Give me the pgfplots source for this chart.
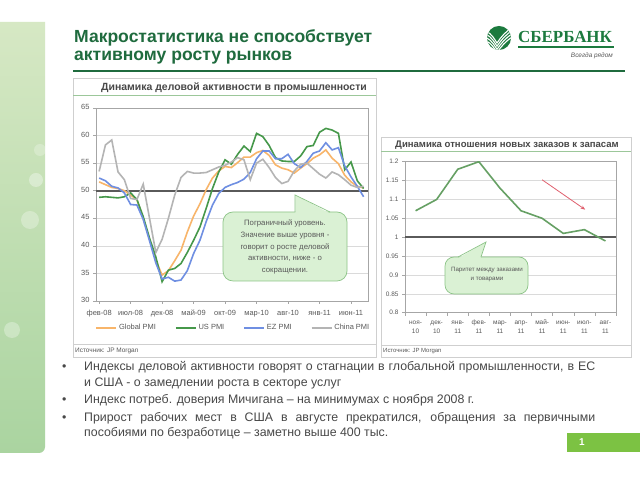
\documentclass[border=0pt]{standalone}
\usepackage{fontspec}
\setmainfont{Liberation Sans}
\newfontfamily\logofont{Liberation Serif}
\usepackage{pgfplots}
\usepackage{pgfplotstable}
\pgfplotsset{compat=1.18}
\usetikzlibrary{arrows.meta}

\definecolor{titlegreen}{HTML}{1F6B3E}
\definecolor{logogreen}{HTML}{1C7A3E}
\definecolor{txtgray}{HTML}{484848}
\definecolor{lblgray}{HTML}{595959}
\definecolor{gridgray}{HTML}{DADADA}
\definecolor{axisgray}{HTML}{A6A6A6}
\definecolor{panelgray}{HTML}{CFCFCF}
\definecolor{lightline}{HTML}{9CC79A}
\definecolor{pmiorange}{HTML}{F8B56A}
\definecolor{pmigreen}{HTML}{46984A}
\definecolor{pmiblue}{HTML}{6F8FE2}
\definecolor{pmigray}{HTML}{B4B4B4}
\definecolor{darkline}{HTML}{5A5A5A}
\definecolor{ratiogreen}{HTML}{66A064}
\definecolor{callfill}{HTML}{DAF1D4}
\definecolor{callborder}{HTML}{8CC487}
\definecolor{arrowred}{HTML}{E0606E}
\definecolor{pagegreen}{HTML}{7CC243}
\definecolor{striptop}{HTML}{D6E8C4}
\definecolor{stripbot}{HTML}{AAD4A0}

% PMI indices, month 0 = Feb 2008
\pgfplotstableread{
i global us ez china
0 51.6 48.8 52.3 53.5
1 51.1 48.9 51.8 58.3
2 50.6 48.8 50.8 59.2
3 50.4 48.7 50.5 53.4
4 50.0 48.9 49.6 52.0
5 49.2 49.6 47.5 48.6
6 48.4 48.4 47.4 48.4
7 44.9 45.3 44.8 51.2
8 41.2 41.4 40.9 45.0
9 37.4 38.0 36.9 38.8
10 34.7 33.5 34.0 41.2
11 35.5 35.6 34.3 45.0
12 37.3 35.9 33.6 49.2
13 39.2 36.8 33.8 52.4
14 42.5 38.8 35.5 53.5
15 45.4 41.0 38.6 53.2
16 47.6 43.4 41.0 53.2
17 50.2 46.8 44.4 53.3
18 52.3 50.4 47.4 53.8
19 53.6 53.4 49.5 54.3
20 54.4 55.6 50.6 54.6
21 54.2 54.8 51.1 55.2
22 55.1 56.6 51.5 56.0
23 56.1 58.1 52.1 55.6
24 56.1 57.1 53.3 52.0
25 56.9 60.4 55.8 55.0
26 57.3 59.8 57.2 55.7
27 56.4 58.2 57.2 54.2
28 54.7 56.0 55.8 52.4
29 54.1 55.4 55.8 51.3
30 53.8 55.3 56.6 51.7
31 53.2 55.3 54.9 53.6
32 54.1 56.3 54.2 54.8
33 54.9 58.0 55.3 55.0
34 55.9 58.2 56.8 54.0
35 56.5 60.6 57.2 53.0
36 57.4 61.3 58.7 52.3
37 55.9 61.0 57.4 53.4
38 54.9 60.4 57.8 52.9
39 52.8 53.8 54.5 52.0
40 51.6 55.2 52.5 51.0
41 50.8 51.8 50.8 50.6
42 50.5 50.4 48.9 50.8
}\pmitable

% new orders / inventories, Nov 2010 .. Aug 2011
\pgfplotstableread{
i ratio
0 1.07
1 1.10
2 1.18
3 1.20
4 1.13
5 1.07
6 1.05
7 1.01
8 1.02
9 0.99
}\ratiotable

\begin{document}
\begin{tikzpicture}[x=1bp,y=1bp]
\path[use as bounding box] (0,0) rectangle (640,480);
\fill[white] (0,0) rectangle (640,480);

% decorative strip on the left
\shade[top color=striptop, bottom color=stripbot]
  (0,458) -- (45,458) -- (45,33) arc (0:-90:6) -- (0,27) -- cycle;
\fill[white, opacity=0.35] (36,300) circle (7);
\fill[white, opacity=0.3] (30,260) circle (9);
\fill[white, opacity=0.3] (12,150) circle (8);
\fill[white, opacity=0.25] (40,330) circle (6);

% header
\node[anchor=base west, inner sep=0, text=titlegreen, font=\bfseries\fontsize{17.6}{19}\selectfont] at (74,437) {Макростатистика не способствует};
\node[anchor=base west, inner sep=0, text=titlegreen, font=\bfseries\fontsize{17.6}{19}\selectfont] at (74,419.5) {активному росту рынков};
\draw[titlegreen, line width=2bp] (73,409) -- (625,409);

% logo
\fill[logogreen] (499,442) circle (12);
\begin{scope}
  \clip (499,442) circle (12);
  \foreach \d in {0,3.2,6.4,9.6}
    \draw[white, line width=1.1bp] (486,{449-\d}) .. controls (492,{446-\d}) and (495,{440-\d}) .. (497,{437-\d}) .. controls (501,{443-\d}) and (506,{449-\d}) .. (513,{453-\d});
\end{scope}
\node[anchor=base west, inner sep=0, text=logogreen, font=\logofont\bfseries\fontsize{17}{17}\selectfont] at (518,437) {СБЕРБАНК};
\draw[logogreen, line width=1.2bp] (518,433) -- (614,433);
\node[anchor=base east, inner sep=0, text=lblgray, font=\itshape\fontsize{6.5}{7}\selectfont] at (613,422) {Всегда рядом};

% left panel frame
\draw[panelgray, line width=0.6bp] (73,402) rectangle (376,123);
\node[text=txtgray, font=\bfseries\fontsize{10.5}{12}\selectfont] at (234,392) {Динамика деловой активности в промышленности};
\draw[lightline, line width=1bp] (73,384) -- (376,384);
\draw[panelgray, line width=0.6bp] (73,136) -- (376,136);
\node[anchor=west, inner sep=0, text=lblgray, font=\fontsize{6.5}{7}\selectfont] at (75,129) {Источник: JP Morgan};

% right panel frame
\draw[panelgray, line width=0.6bp] (381,343) rectangle (631,123);
\node[text=txtgray, font=\bfseries\fontsize{9.6}{11}\selectfont] at (507,335) {Динамика отношения новых заказов к запасам};
\draw[lightline, line width=1bp] (381,328) -- (631,328);
\draw[panelgray, line width=0.6bp] (381,135) -- (631,135);
\node[anchor=west, inner sep=0, text=lblgray, font=\fontsize{6}{7}\selectfont] at (383,129) {Источник: JP Morgan};

% left chart
\begin{axis}[
  at={(96bp,179bp)}, anchor=south west,
  scale only axis, width=272bp, height=193bp,
  xmin=-0.5, xmax=42.7, ymin=30, ymax=65,
  ytick={30,35,...,65},
  xtick={0,5,...,40},
  xticklabels={фев-08,июл-08,дек-08,май-09,окт-09,мар-10,авг-10,янв-11,июн-11},
  typeset ticklabels with strut,
  ymajorgrids, grid style={draw=gridgray, line width=0.6bp},
  axis line style={draw=axisgray, line width=0.6bp},
  tick style={draw=axisgray, line width=0.6bp},
  tick pos=left, tick align=outside, major tick length=3bp,
  ticklabel style={font=\fontsize{7.5}{8}\selectfont, text=lblgray},
  xticklabel style={yshift=-2.5bp},
  /pgf/number format/assume math mode=true,
  legend columns=4,
  legend style={at={(0.505,-0.14)}, anchor=center, draw=none, fill=none,
    font=\fontsize{7.5}{8}\selectfont, text=lblgray,
    /tikz/every even column/.append style={column sep=17bp}},
  legend image code/.code={\draw[#1] (0bp,0bp) -- (20bp,0bp);},
]
\addplot[darkline, line width=1.8bp, forget plot] coordinates {(-0.5,50) (42.7,50)};
\addplot[pmiorange, line width=1.6bp] table[x=i, y=global] {\pmitable};
\addlegendentry{Global PMI}
\addplot[pmigreen, line width=1.6bp] table[x=i, y=us] {\pmitable};
\addlegendentry{US PMI}
\addplot[pmiblue, line width=1.6bp] table[x=i, y=ez] {\pmitable};
\addlegendentry{EZ PMI}
\addplot[pmigray, line width=1.6bp] table[x=i, y=china] {\pmitable};
\addlegendentry{China PMI}
\end{axis}

% right chart
\begin{axis}[
  at={(405bp,167.3bp)}, anchor=south west,
  scale only axis, width=211bp, height=151bp,
  xmin=-0.5, xmax=9.5, ymin=0.8, ymax=1.2,
  ytick={0.8,0.85,0.9,0.95,1,1.05,1.1,1.15,1.2},
  yticklabels={0.8,0.85,0.9,0.95,1,1.05,1.1,1.15,1.2},
  xtick={0,...,9},
  xticklabels={{\strut ноя-\\10},{\strut дек-\\10},{\strut янв-\\11},{\strut фев-\\11},{\strut мар-\\11},{\strut апр-\\11},{\strut май-\\11},{\strut июн-\\11},{\strut июл-\\11},{\strut авг-\\11}},
  xticklabel style={align=center, font=\fontsize{6.5}{9}\selectfont, anchor=north, yshift=1bp},
  minor xtick={-0.5,0.5,...,9.5},
  ymajorgrids, grid style={draw=gridgray, line width=0.6bp},
  axis line style={draw=axisgray, line width=0.6bp},
  tick style={draw=axisgray, line width=0.6bp},
  major x tick style={draw=none},
  tick pos=left, tick align=outside,
  major tick length=3bp, minor tick length=3bp,
  ticklabel style={text=lblgray},
  yticklabel style={font=\fontsize{6.5}{8}\selectfont},
  /pgf/number format/assume math mode=true,
]
\addplot[darkline, line width=1.8bp] coordinates {(-0.5,1) (9.5,1)};
\addplot[ratiogreen, line width=1.6bp] table[x=i, y=ratio] {\ratiotable};
\draw[arrowred, line width=0.8bp, -{Stealth[length=4.5bp, width=3.5bp]}] (axis cs:6.0,1.152) -- (axis cs:8.04,1.073);
\end{axis}

% left callout
\filldraw[fill=callfill, draw=callborder, line width=0.7bp, rounded corners=10bp] (223,268) rectangle (347,199);
\fill[callfill] (295.4,267) -- (295.4,285) -- (329,267) -- cycle;
\draw[callborder, line width=0.7bp] (295,268) -- (295,285) -- (330,268);
\node[align=center, text=lblgray, font=\fontsize{7.8}{11.7}\selectfont] at (285,233)
  {Пограничный уровень.\\Значение выше уровня -\\говорит о росте деловой\\активности, ниже - о\\сокращении.};

% right callout
\filldraw[fill=callfill, draw=callborder, line width=0.7bp, rounded corners=9bp] (445,223) rectangle (528,186);
\fill[callfill] (458.5,222) -- (486,238) -- (480.5,222) -- cycle;
\draw[callborder, line width=0.7bp] (458,223) -- (486,238) -- (481,223);
\node[align=center, text=lblgray, font=\fontsize{6.2}{9}\selectfont] at (487,205)
  {Паритет между заказами\\и товарами};

% bullets
\begin{scope}[every node/.style={anchor=base west, inner sep=0, text=txtgray, font=\fontsize{12.4}{14}\selectfont}]
\node at (62,109) {•};
\node at (84,109) {\makebox[511bp][s]{Индексы деловой активности говорят о стагнации в глобальной промышленности, в ЕС}};
\node at (84,93) {и США - о замедлении роста в секторе услуг};
\node at (62,76) {•};
\node at (84,76) {Индекс потреб. доверия Мичигана – на минимумах с ноября 2008 г.};
\node at (62,58) {•};
\node at (84,58) {\makebox[511bp][s]{Прирост рабочих мест в США в августе прекратился, обращения за первичными}};
\node at (84,43) {пособиями по безработице – заметно выше 400 тыс.};
\end{scope}

% page number
\fill[pagegreen] (567,28) rectangle (640,47);
\node[text=white, font=\bfseries\fontsize{10}{12}\selectfont] at (582,37.5) {1};
\end{tikzpicture}
\end{document}
